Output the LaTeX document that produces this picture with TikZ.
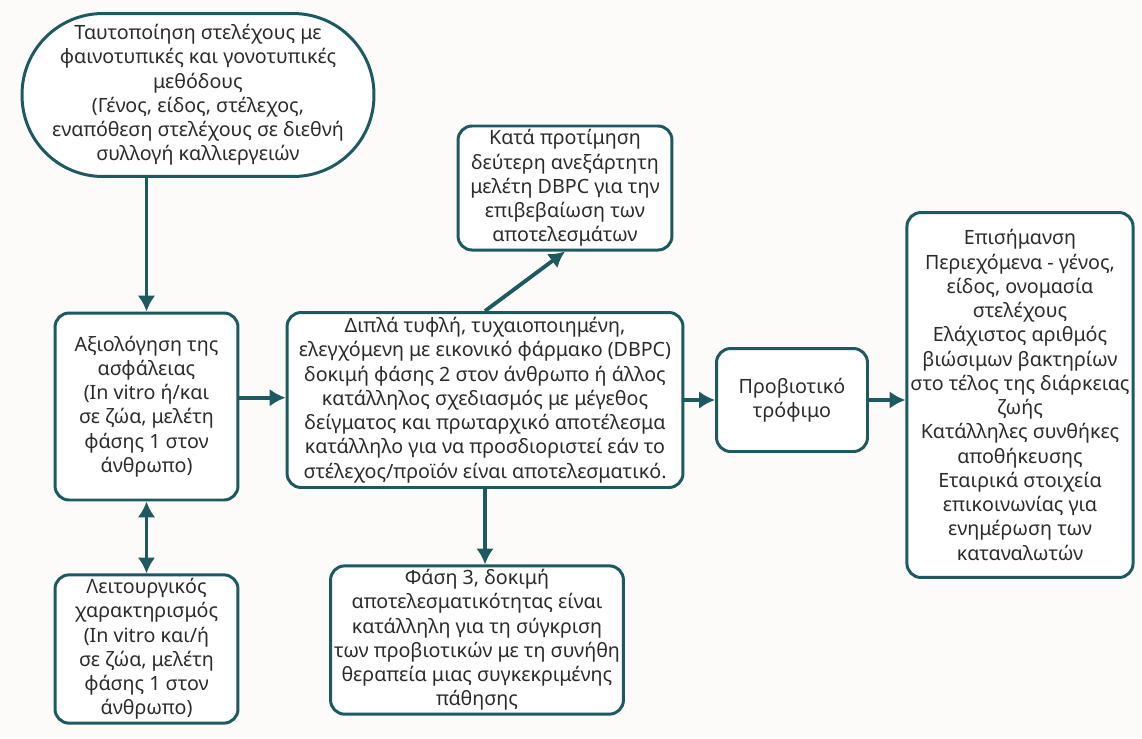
\documentclass[tikz,border=0pt]{standalone}
\usepackage{fontspec}
\setmainfont{Noto Sans}
\usetikzlibrary{arrows.meta}
\definecolor{tealline}{HTML}{1D5A60}
\definecolor{textgray}{HTML}{2B2B2B}
\definecolor{paper}{HTML}{FCFBF9}

\tikzstyle{block} = [draw=tealline,line width=1.7pt,fill=white,text=textgray,
                     align=center,rounded corners=8pt,inner sep=2pt,
                     font=\fontsize{11.2}{13.8}\selectfont]
\tikzstyle{pill}  = [block,rounded corners=46pt]
\tikzstyle{arrow} = [draw=tealline,line width=2.2pt,-{Latex[length=9pt,width=10pt]}]

\begin{document}
\begin{tikzpicture}[x=0.02cm,y=-0.02cm]
  \fill[paper] (0,0) rectangle (1142,738);
  \useasboundingbox (0,0) rectangle (1142,738);

  \node[pill,minimum width=7.04cm,minimum height=3.26cm] at (198,95) (ident)
    {Ταυτοποίηση στελέχους με\\ φαινοτυπικές και γονοτυπικές\\ μεθόδους\\
     (Γένος, είδος, στέλεχος,\\ εναπόθεση στελέχους σε διεθνή\\ συλλογή καλλιεργειών};
  \node[block,minimum width=3.66cm,minimum height=3.74cm] at (146.5,406.5) (safety)
    {Αξιολόγηση της\\ ασφάλειας\\ (In vitro ή/και\\ σε ζώα, μελέτη\\ φάσης 1 στον\\ άνθρωπο)};
  \node[block,minimum width=3.66cm,minimum height=2.92cm] at (146.5,649) (func)
    {Λειτουργικός\\ χαρακτηρισμός\\ (In vitro και/ή\\ σε ζώα, μελέτη\\ φάσης 1 στον\\ άνθρωπο)};
  \node[block,minimum width=7.92cm,minimum height=3.5cm] at (485,400) (dbpc)
    {Διπλά τυφλή, τυχαιοποιημένη,\\ ελεγχόμενη με εικονικό φάρμακο (DBPC)\\
     δοκιμή φάσης 2 στον άνθρωπο ή άλλος\\ κατάλληλος σχεδιασμός με μέγεθος\\
     δείγματος και πρωταρχικό αποτέλεσμα\\ κατάλληλο για να προσδιοριστεί εάν το\\
     στέλεχος/προϊόν είναι αποτελεσματικό.};
  \node[block,minimum width=4.28cm,minimum height=2.44cm] at (565,188) (second)
    {Κατά προτίμηση\\ δεύτερη ανεξάρτητη\\ μελέτη DBPC για την\\ επιβεβαίωση των\\ αποτελεσμάτων};
  \node[block,minimum width=5.3cm,minimum height=2.74cm] at (477,640) (phase3)
    {Φάση 3, δοκιμή\\ αποτελεσματικότητας είναι\\ κατάλληλη για τη σύγκριση\\
     των προβιοτικών με τη συνήθη\\ θεραπεία μιας συγκεκριμένης\\ πάθησης};
  \node[block,minimum width=3.02cm,minimum height=2.06cm] at (792,400) (food)
    {Προβιοτικό\\ τρόφιμο};
  \node[block,minimum width=4.4cm,minimum height=7.3cm] at (1020,395) (label)
    {Επισήμανση\\ Περιεχόμενα - γένος,\\ είδος, ονομασία\\ στελέχους\\
     Ελάχιστος αριθμός\\ βιώσιμων βακτηρίων\\ στο τέλος της διάρκειας\\ ζωής\\
     Κατάλληλες συνθήκες\\ αποθήκευσης\\ Εταιρικά στοιχεία\\ επικοινωνίας για\\
     ενημέρωση των\\ καταναλωτών};

  \draw[arrow] (safety.north |- ident.south) -- (safety.north);
  \draw[arrow,{Latex[length=9pt,width=10pt]}-{Latex[length=9pt,width=10pt]}] (safety.south) -- (func.north);
  \draw[arrow] ([yshift=5pt]safety.east) -- ([yshift=5pt]dbpc.west |- safety.east);
  \draw[arrow] (dbpc.north) -- (second.south);
  \draw[arrow] (dbpc.south) -- (dbpc.south |- phase3.north);
  \draw[arrow] (dbpc.east) -- (food.west);
  \draw[arrow] (food.east) -- (label.west |- food.east);
\end{tikzpicture}
\end{document}
